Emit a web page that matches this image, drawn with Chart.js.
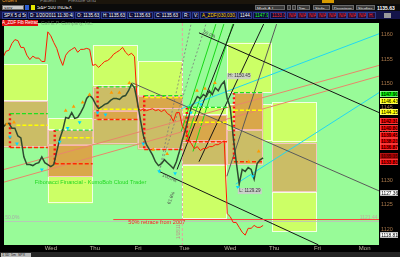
<!DOCTYPE html>
<html>
<head>
<meta charset="utf-8">
<title>SPX 5 d 5m</title>
<script src="https://cdn.jsdelivr.net/npm/chart.js"></script>
<style>
  body { margin: 0; width: 400px; height: 257px; overflow: hidden; background: #000; position: relative;
         font-family: "Liberation Sans", Arial, sans-serif; }
  .a { position: absolute; white-space: nowrap; line-height: 1; overflow: hidden; }
  #tabs { left: 0; top: 0; width: 400px; height: 4px; background: #1b150c; }
  .tab { top: -2px; font-size: 5px; color: #8a8a8a; }
  #toolbar { left: 0; top: 4px; width: 400px; height: 7px; background: #0b0b0b; }
  .btn { top: 1px; height: 5px; font-size: 4.4px; line-height: 5px; color: #e6e6e6; background: #3a3a3a;
         border: 1px solid #6a6a6a; box-sizing: border-box; padding: 0 1px; }
  #infobar { left: 0; top: 11px; width: 400px; height: 8px; background: #14144a; }
  .cell { top: 0.5px; height: 7px; font-size: 4.6px; line-height: 6px; color: #fff; background: #0b0b36;
          border: 1px solid #2a3a8c; box-sizing: border-box; padding: 0 1px; }
  .na { color: #ff2a2a; background: #2a0c34; }
  #chartBox { left: 0; top: 19px; width: 400px; height: 233px; overflow: visible; }
  #status { left: 0; top: 252px; width: 400px; height: 5px; background: #242424; }
  .sb { top: 0.5px; height: 4px; background: #b8b8b8; font-size: 3.5px; line-height: 4px; color: #222; padding: 0 1px; }
</style>
</head>
<body>
<div id="tabs" class="a">
  <div class="a tab" style="left:2px;color:#f0a030">Orders</div>
  <div class="a tab" style="left:40px">Pattern</div>
  <div class="a tab" style="left:68px">Flexible Grid</div>
  <div class="a" style="left:322px;top:0;width:12px;height:3px;background:#d89a00"></div>
</div>
<div id="toolbar" class="a">
  <div class="a btn" style="left:2px;width:22px;background:#c8c8c8;color:#111">SPX</div>
  <div class="a" style="left:25px;top:1px;width:4px;height:5px;background:#2f5fd0"></div>
  <div class="a" style="left:31px;top:1px;width:4px;height:5px;background:#e6e600"></div>
  <div class="a" style="left:37px;top:1.5px;font-size:4.8px;color:#e8e8e8">S&amp;P 500 INDEX</div>
  <div class="a btn" style="left:255px;width:30px">Mark A.L</div>
  <div class="a btn" style="left:287px;width:4px"></div>
  <div class="a btn" style="left:292px;width:4px"></div>
  <div class="a btn" style="left:297px;width:13px">5m</div>
  <div class="a btn" style="left:313px;width:17px">Style</div>
  <div class="a btn" style="left:332px;width:22px">Drawings</div>
  <div class="a btn" style="left:356px;width:19px">Studies</div>
  <div class="a" style="left:377px;top:1.5px;font-size:5px;font-weight:bold;color:#fff">1135.63</div>
</div>
<div id="infobar" class="a">
  <div class="a cell" style="left:2px;width:25px">SPX 5 d 5m</div>
  <div class="a cell" style="left:28px;width:46px">D: 1/20/2011 11:30:48</div>
  <div class="a cell" style="left:75px;width:25px">O: 1135.63</div>
  <div class="a cell" style="left:101px;width:25px">H: 1135.63</div>
  <div class="a cell" style="left:127px;width:26px">L: 1135.63</div>
  <div class="a cell" style="left:154px;width:27px">C: 1135.63</div>
  <div class="a cell" style="left:182px;width:9px">R: 0</div>
  <div class="a cell" style="left:192px;width:7px">V:</div>
  <div class="a cell" style="left:200px;width:37px;color:#ffd400">A_ZDF(030,030,No,030,1030)</div>
  <div class="a cell" style="left:238px;width:14px">1144.15</div>
  <div class="a cell" style="left:253px;width:16px;color:#22ff22">1147.90</div>
  <div class="a cell" style="left:270px;width:16px;color:#ff3030">1133.06</div>
  <div class="a cell na" style="left:287px;width:10px">N/A</div>
  <div class="a cell na" style="left:297px;width:10px">N/A</div>
  <div class="a cell na" style="left:307px;width:10px">N/A</div>
  <div class="a cell na" style="left:317px;width:10px">N/A</div>
  <div class="a cell na" style="left:327px;width:10px">N/A</div>
  <div class="a cell na" style="left:337px;width:10px">N/A</div>
  <div class="a cell na" style="left:347px;width:10px">N/A</div>
  <div class="a cell na" style="left:357px;width:10px">N/A</div>
  <div class="a cell na" style="left:367px;width:9px">H.</div>
  <div class="a" style="left:384px;top:1.5px;width:7px;height:5px;background:#9a9a9a"></div>
</div>

<div id="chartBox" class="a"><canvas id="spxChart"></canvas></div>

<div class="a" style="left:2px;top:20px;width:36px;height:6px;background:#e01010;color:#fff;font-size:4.5px;line-height:6px;text-align:center">A_ZDF Fib Retrace</div>
<div class="a" style="left:41px;top:20.5px;font-size:5px;color:rgba(110,150,110,0.7)">Call E.P. Company, Inc.</div>

<div id="status" class="a">
  <div class="a sb" style="left:1px">1 5D</div>
  <div class="a sb" style="left:10px">5m</div>
  <div class="a sb" style="left:17px">SPX</div>
  <div class="a sb" style="left:26px;width:3px"></div>
</div>

<script>
// time axis: one unit per trading session, session 0 is the first one shown
const dayTicks = [1, 2, 3, 4, 5, 6, 7, 8];
const dayLabels = ['Wed', 'Thu', 'Fri', 'Tue', 'Wed', 'Thu', 'Fri', 'Mon'];
const priceTicks = [1120, 1125, 1130, 1135, 1140, 1145, 1150, 1155, 1160];
const barsPerDay = 15;

// SPX closes, sampled through each session
const spxDay0 = [1141.0, 1141.6, 1141.8, 1140.8, 1140.8, 1139.2, 1138.8, 1134.9, 1133.3, 1133.3, 1133.1, 1133.5, 1133.7, 1134.9, 1133.7];
const spxDay1 = [1133.3, 1132.9, 1133.3, 1136.0, 1138.6, 1140.4, 1143.0, 1142.8, 1144.0, 1142.8, 1143.0, 1144.0, 1145.2, 1146.9, 1147.6];
const spxDay2 = [1146.9, 1145.7, 1144.8, 1145.2, 1145.7, 1145.9, 1146.5, 1146.9, 1146.9, 1146.7, 1147.3, 1147.5, 1148.5, 1149.9, 1149.1];
const spxDay3 = [1146.1, 1142.4, 1139.2, 1137.4, 1136.4, 1135.3, 1133.9, 1133.1, 1133.5, 1134.3, 1133.7, 1133.1, 1132.5, 1133.9, 1136.0];
const spxDay4 = [1138.4, 1140.4, 1142.8, 1145.2, 1146.1, 1147.3, 1146.9, 1147.7, 1147.3, 1148.5, 1147.7, 1149.1, 1148.5, 1149.7, 1150.4];
const spxDay5 = [1146.9, 1145.05, 1139.0, 1133.9, 1129.3, 1132.3, 1131.9, 1132.7, 1132.3, 1130.3, 1133.5, 1134.3, 1134.7];

// red comparison plot
const cmpDay0 = [1155.3, 1156.6, 1156.8, 1158.2, 1159.0, 1158.8, 1157.4, 1157.4, 1155.8, 1154.9, 1155.6, 1155.2, 1155.2, 1154.5, 1154.5];
const cmpDay1 = [1160.6, 1159.8, 1158.4, 1157.2, 1155.2, 1153.7, 1155.8, 1156.6, 1157.0, 1157.4, 1156.4, 1157.0, 1157.0, 1157.2, 1157.0];
const cmpDay2 = [1153.7, 1153.9, 1153.3, 1153.9, 1154.5, 1154.7, 1155.2, 1156.0, 1156.4, 1156.8, 1157.4, 1156.4, 1155.8, 1156.2, 1155.5];
const cmpDay3 = [1145.2, 1144.4, 1144.8, 1144.4, 1144.6, 1144.8, 1144.4, 1144.6, 1144.2, 1144.6, 1143.8, 1143.4, 1142.2, 1144.0, 1144.0];
const cmpDay4 = [1141.2, 1140.4, 1138.8, 1137.6, 1136.6, 1137.0, 1136.2, 1136.6, 1136.6, 1137.0, 1137.0, 1137.4, 1137.4, 1137.8, 1138.2];
const cmpDay5 = [1123.2, 1122.6, 1121.4, 1121.4, 1120.4, 1119.4, 1118.8, 1120.2, 1120.2, 1120.8, 1120.4, 1120.4, 1120.8];

// cloud zones: [from session, to session, upper price, lower price]
const limeZones = [
  [0, 1, 1154.0, 1146.3], [1, 2, 1142.8, 1140.4], [1, 2, 1130.9, 1125.3],
  [2, 3, 1157.8, 1149.3], [3, 4, 1154.6, 1147.5], [4, 5, 1145.05, 1143.4],
  [4, 5, 1133.3, 1122.2], [5, 6, 1158.4, 1148.1], [5, 6, 1145.7, 1138.0],
  [6, 7, 1146.1, 1137.8], [6, 7, 1127.7, 1119.5]
];
const khakiZones = [
  [0, 1, 1146.3, 1136.8], [1, 2, 1140.4, 1137.4], [2, 3, 1149.3, 1144.4],
  [2, 3, 1142.6, 1137.4], [3, 4, 1144.9, 1136.4], [4, 5, 1138.0, 1133.3],
  [5, 5.8, 1140.4, 1133.3], [6, 7, 1137.8, 1127.7]
];
const amberZones = [
  [1, 2, 1137.4, 1130.9], [2, 3, 1144.4, 1142.6], [3, 4, 1147.5, 1144.9],
  [4, 5, 1143.4, 1138.0], [5.15, 5.8, 1148.1, 1140.4]
];

// daily trade levels: [from, to, price]
const targetLevels = [[0.157, 1, 1143.8], [1.155, 2, 1140.4], [2.11, 3, 1149.3], [3.15, 4, 1147.5], [4.1, 5, 1145.05], [5.15, 5.8, 1148.1]];
const entryLevels = [[0.3, 1, 1141.4], [1.31, 2, 1138.8], [2.11, 3, 1144.7], [3.15, 4, 1147.1], [4.1, 5, 1142.0], [5.15, 5.8, 1144.5]];
const stopLevels = [[0.157, 1, 1136.8], [1.155, 2, 1133.5], [2.11, 3, 1142.6], [3.15, 4, 1136.4], [4.1, 5, 1138.0], [5.15, 5.8, 1133.9]];

// signal arrows: [time, price]
const upSignals = [[0.091, 1141.6], [0.246, 1142.0], [1.399, 1144.4], [1.576, 1145.2], [1.776, 1146.1], [1.931, 1147.7],
  [2.419, 1148.1], [2.596, 1148.1], [2.818, 1150.1], [3.35, 1136.4], [3.661, 1135.5], [4.326, 1148.5],
  [4.503, 1148.9], [4.725, 1150.1], [5.479, 1133.9], [5.701, 1136.0]];
const downSignals = [[0.157, 1139.0], [0.313, 1137.6], [0.867, 1132.3], [1.266, 1138.0], [1.443, 1140.8], [1.71, 1142.0],
  [2.109, 1144.0], [2.286, 1143.6], [3.129, 1137.6], [3.483, 1131.9], [3.838, 1131.5], [4.193, 1144.0],
  [4.415, 1145.7], [5.235, 1128.7], [5.568, 1130.9]];

// drawn trend / fan lines: [[time, price], [time, price]]
const blackLines = [
  [[4.37, 1160.4], [8.383, 1144.0]], [[3.483, 1131.9], [7.031, 1116.8]],
  [[3.882, 1132.3], [5.146, 1162.2]], [[4.37, 1133.9], [5.812, 1162.2]]
];
const grayLines = [[[2.885, 1150.1], [8.383, 1127.9]], [[4.991, 1130.9], [6.1, 1162.2]]];
const salmonLines = [[[0.024, 1132.3], [8.383, 1153.7]], [[0.024, 1129.7], [8.383, 1151.5]]];
const cyanLines = [[[3.971, 1144.8], [8.383, 1160.2]], [[5.191, 1129.3], [8.383, 1148.1]]];
const greenLines = [
  [[3.971, 1140.0], [4.747, 1162.2]], [[4.082, 1138.0], [4.925, 1162.2]], [[4.237, 1136.0], [5.124, 1162.2]]
];
const fanLines = [[[3.483, 1131.9], [4.525, 1162.2]], [[3.483, 1131.9], [4.193, 1162.2]]];

const fiftyLevel = 1121.6;
const retraceLevel = 1122.0;
const retraceStart = 2.46;
const holidayBreak = 4;
const sessionHigh = [4.991, 1150.45];
const sessionLow = [5.235, 1129.29];

const tagPrices = [1147.90, 1146.43, 1144.15, 1142.31, 1140.80, 1139.45, 1138.23, 1136.87, 1135.15, 1133.83, 1127.36, 1118.81];
const tagKinds = ['up', 'mid', 'mid', 'dn', 'dn', 'dn', 'dn', 'dn', 'old', 'dn', 'last', 'last'];

const xMin = 0.024, xMax = 8.383;
const yMin = 1116.77, yMax = 1162.42;

function sessionPoints(days) {
  const pts = [];
  days.forEach((closes, d) => {
    closes.forEach((v, k) => pts.push({ x: d + k / barsPerDay, y: v }));
  });
  return pts;
}
const segment = l => l.map(p => ({ x: p[0], y: p[1] }));

const datasets = [];
function addLine(data, color, width, order, extra) {
  datasets.push(Object.assign({
    data: data, borderColor: color, borderWidth: width, pointRadius: 0,
    tension: 0, fill: false, order: order
  }, extra || {}));
}

// signals on top
datasets.push({
  data: segment(upSignals), showLine: false, pointStyle: 'triangle', pointRadius: 2.2,
  pointBackgroundColor: '#ff9a00', pointBorderColor: '#ff9a00', pointBorderWidth: 0, order: 0
});
datasets.push({
  data: segment(downSignals), showLine: false, pointStyle: 'triangle', pointRadius: 2.2, pointRotation: 180,
  pointBackgroundColor: '#00d8ff', pointBorderColor: '#00d8ff', pointBorderWidth: 0, order: 0
});
addLine(sessionPoints([spxDay0, spxDay1, spxDay2, spxDay3, spxDay4, spxDay5]), '#2e4a30', 1.5, 1);
addLine(sessionPoints([cmpDay0, cmpDay1, cmpDay2, cmpDay3, cmpDay4, cmpDay5]), '#ff1a00', 1, 2);

targetLevels.forEach(l => addLine([{ x: l[0], y: l[2] }, { x: l[1], y: l[2] }], '#1ee01e', 1.2, 3, { borderDash: [4, 2] }));
entryLevels.forEach(l => addLine([{ x: l[0], y: l[2] }, { x: l[1], y: l[2] }], '#ffff00', 1.5, 3, { borderDash: [4, 2] }));
stopLevels.forEach(l => addLine([{ x: l[0], y: l[2] }, { x: l[1], y: l[2] }], '#ff2a00', 1.5, 3, { borderDash: [4, 2] }));
stopLevels.forEach((l, i) => addLine([{ x: l[0], y: targetLevels[i][2] }, { x: l[0], y: l[2] }], '#ff1010', 2.4, 3, { borderDash: [2, 2.6] }));

addLine([{ x: retraceStart, y: retraceLevel }, { x: xMax, y: retraceLevel }], '#ff3a3a', 1, 4);
addLine([{ x: xMin, y: fiftyLevel }, { x: xMax, y: fiftyLevel }], 'rgba(190,190,190,0.8)', 1, 5);
addLine([{ x: holidayBreak, y: yMax }, { x: holidayBreak, y: yMin }], '#e6a0a0', 1, 5, { borderDash: [3, 2] });

blackLines.forEach(l => addLine(segment(l), '#151515', 1, 4));
grayLines.forEach(l => addLine(segment(l), '#5a5a5a', 1, 4));
salmonLines.forEach(l => addLine(segment(l), '#e8876a', 1, 4));
cyanLines.forEach(l => addLine(segment(l), '#22d8f0', 1, 4));
greenLines.forEach(l => addLine(segment(l), '#18d818', 1, 4));
fanLines.forEach(l => addLine(segment(l), '#7a7a7a', 0.8, 4, { borderDash: [2, 2] }));

const tagStyle = {
  up: { bg: '#00e400', fg: '#000', edge: '#c8ffc8' },
  mid: { bg: '#ffff00', fg: '#000', edge: '#ffffa0' },
  dn: { bg: '#e80000', fg: '#000', edge: '#ff6060' },
  old: { bg: '#a00000', fg: '#300', edge: '#c02020' },
  last: { bg: '#ffffff', fg: '#000', edge: '#999' }
};

const cloudPlugin = {
  id: 'cloud',
  beforeDraw(chart) {
    const { ctx, chartArea: a } = chart;
    ctx.save();
    ctx.fillStyle = '#000';
    ctx.fillRect(0, 0, chart.width, chart.height);
    ctx.fillStyle = '#98fb98';
    ctx.fillRect(a.left, a.top, a.right - a.left, a.bottom - a.top);
    ctx.restore();
  },
  beforeDatasetsDraw(chart) {
    const { ctx, chartArea: a, scales: { x, y } } = chart;
    ctx.save();
    ctx.beginPath();
    ctx.rect(a.left, a.top, a.right - a.left, a.bottom - a.top);
    ctx.clip();
    const box = (z, fill, edge) => {
      const l = x.getPixelForValue(z[0]), r = x.getPixelForValue(z[1]);
      const t = y.getPixelForValue(z[2]), b = y.getPixelForValue(z[3]);
      ctx.fillStyle = fill;
      ctx.fillRect(l, t, r - l, b - t);
      ctx.strokeStyle = edge;
      ctx.lineWidth = 1;
      ctx.strokeRect(Math.round(l) + 0.5, Math.round(t) + 0.5, Math.round(r - l) - 1, Math.round(b - t) - 1);
    };
    limeZones.forEach(z => box(z, '#ccff66', 'rgba(255,255,255,0.8)'));
    khakiZones.forEach(z => box(z, '#cbbd66', 'rgba(255,200,215,0.8)'));
    amberZones.forEach(z => box(z, '#d9a74a', 'rgba(255,185,200,0.8)'));
    ctx.restore();
  },
  afterDatasetsDraw(chart) {
    const { ctx, chartArea: a, scales: { x, y } } = chart;
    ctx.save();
    ctx.beginPath();
    ctx.rect(a.left, a.top, a.right - a.left, a.bottom - a.top);
    ctx.clip();
    ctx.textBaseline = 'middle';
    ctx.font = '5.6px "Liberation Sans"';
    ctx.fillStyle = '#22d822';
    ctx.fillText('Fibonacci Financial - KumoBob Cloud Trader', x.getPixelForValue(0.712), y.getPixelForValue(1129.7));
    ctx.fillStyle = '#ff2020';
    ctx.fillText('50% retrace from 2007', x.getPixelForValue(2.796), y.getPixelForValue(1121.4));
    ctx.font = '5px "Liberation Sans"';
    ctx.fillStyle = '#a8a8a8';
    ctx.fillText('50.0%', x.getPixelForValue(0.05), y.getPixelForValue(1122.5));
    ctx.fillStyle = 'rgba(200,160,160,0.9)';
    ctx.textAlign = 'right';
    ctx.fillText('1121.44', x.getPixelForValue(8.35), y.getPixelForValue(1122.5));
    ctx.textAlign = 'left';

    const rotated = (txt, tx, ty, ang, color) => {
      ctx.save();
      ctx.translate(x.getPixelForValue(tx), y.getPixelForValue(ty));
      ctx.rotate(ang);
      ctx.fillStyle = color;
      ctx.fillText(txt, 0, 0);
      ctx.restore();
    };
    ctx.font = '4.5px "Liberation Sans"';
    rotated('1/18/11', 3.93, 1118.0, -Math.PI / 2, '#c08a8a');
    rotated('100.0%', 3.56, 1131.2, 0.43, '#4a4a4a');
    rotated('61.8%', 3.7, 1125.2, -1.2, '#4a4a4a');
    rotated('50.0%', 4.47, 1160.6, 0.42, '#4a4a4a');

    // session high / low callouts
    ctx.font = '4.6px "Liberation Sans"';
    const callout = (txt, p, below) => {
      const px = x.getPixelForValue(p[0]), py = y.getPixelForValue(p[1]);
      const top = below ? py + 4 : py - 8;
      ctx.fillStyle = 'rgba(205,205,205,0.9)';
      ctx.fillRect(px, top, 24, 6);
      ctx.fillStyle = '#333';
      ctx.fillText(txt, px + 1.5, top + 3);
    };
    callout('H: ' + sessionHigh[1].toFixed(2), sessionHigh, false);
    callout('L: ' + sessionLow[1].toFixed(2), sessionLow, true);
    ctx.restore();
  },
  afterDraw(chart) {
    const { ctx, chartArea: a, scales: { y } } = chart;
    ctx.save();
    ctx.font = '4.8px "Liberation Sans"';
    ctx.textBaseline = 'middle';
    tagPrices.forEach((p, i) => {
      const s = tagStyle[tagKinds[i]];
      const py = Math.round(y.getPixelForValue(p));
      ctx.fillStyle = s.bg;
      ctx.fillRect(a.right + 1, py - 3, 18, 6);
      ctx.strokeStyle = s.edge;
      ctx.lineWidth = 0.6;
      ctx.strokeRect(a.right + 1.3, py - 2.7, 17.4, 5.4);
      ctx.fillStyle = s.fg;
      ctx.fillText(p.toFixed(2), a.right + 2.2, py + 0.3);
    });
    ctx.restore();
  }
};

new Chart(document.getElementById('spxChart').getContext('2d'), {
  type: 'line',
  data: { datasets: datasets },
  options: {
    responsive: true,
    maintainAspectRatio: false,
    animation: false,
    events: [],
    layout: { padding: { left: 2, right: 0, top: 0, bottom: 0 } },
    plugins: { legend: { display: false }, tooltip: { enabled: false } },
    scales: {
      x: {
        type: 'linear', bounds: 'data', min: xMin, max: xMax,
        grid: { display: false, drawTicks: false }, border: { display: false },
        afterBuildTicks: s => { s.ticks = dayTicks.map(v => ({ value: v })); },
        afterFit: s => { s.height = 7; s.paddingLeft = 0; s.paddingRight = 0; },
        ticks: {
          align: 'start', padding: 0, maxRotation: 0, autoSkip: false, labelOffset: -3,
          color: '#bdb59e', font: { size: 6, family: 'Liberation Sans' },
          callback: (v, i) => dayLabels[i]
        }
      },
      y: {
        type: 'linear', position: 'right', bounds: 'data', min: yMin, max: yMax,
        grid: { display: false, drawTicks: false }, border: { display: false },
        afterBuildTicks: s => { s.ticks = priceTicks.map(v => ({ value: v })); },
        afterFit: s => { s.width = 21; s.paddingTop = 0; s.paddingBottom = 0; },
        ticks: {
          padding: 2, color: '#a8784a', font: { size: 5.5, family: 'Liberation Sans' },
          callback: v => String(v)
        }
      }
    }
  },
  plugins: [cloudPlugin]
});
</script>
</body>
</html>
